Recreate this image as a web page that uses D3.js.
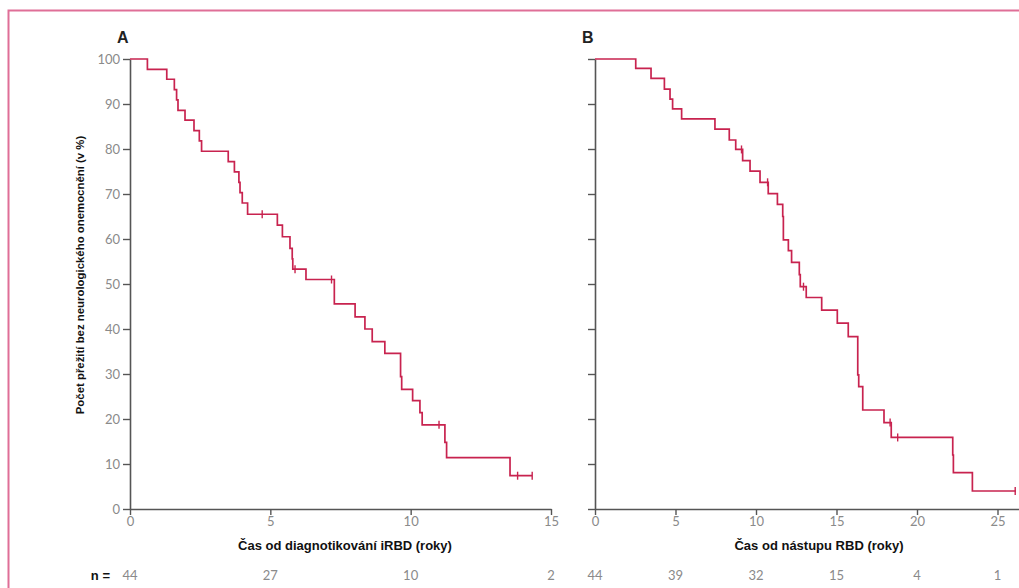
<!DOCTYPE html>
<html>
<head>
<meta charset="utf-8">
<script src="https://cdn.jsdelivr.net/npm/d3@7"></script>
<style>
  body { margin: 0; background: #fff; }
  svg { display: block; }
</style>
</head>
<body>
<div id="chart"></div>
<script>
// Kaplan-Meier steps (time in years, survival in %)
const stepTimesA = [0, 0.62, 1.31, 1.58, 1.66, 1.71, 1.96, 2.28, 2.47, 2.55, 3.50, 3.72, 3.88, 3.92, 4.00, 4.19,
    5.25, 5.43, 5.70, 5.78, 5.80, 6.27, 7.28, 8.02, 8.37, 8.63, 9.08, 9.64, 9.68, 10.07, 10.33, 10.41,
    11.22, 11.28, 13.54];
const stepValuesA = [100, 97.7, 95.5, 93.2, 90.9, 88.6, 86.4, 84.1, 81.8, 79.5, 77.2, 74.9, 72.6, 70.3, 68.0, 65.5,
    63.1, 60.5, 57.9, 55.6, 53.3, 51.0, 45.6, 42.7, 40.0, 37.2, 34.6, 29.4, 26.6, 24.1, 21.4, 18.7,
    14.8, 11.4, 7.4];
const endTimeA = 14.33;
const censorTimesA = [4.71, 5.88, 7.18, 11.01, 13.81, 14.33];

const stepTimesB = [0, 2.53, 3.48, 4.31, 4.66, 4.82, 5.38, 7.45, 8.34, 8.74, 9.17, 9.63, 10.25, 10.76, 11.33,
    11.66, 11.70, 12.01, 12.21, 12.69, 12.75, 13.12, 14.08, 15.05, 15.73, 16.32, 16.38, 16.63, 17.95,
    18.40, 22.22, 22.26, 23.44];
const stepValuesB = [100, 97.9, 95.7, 93.3, 91.1, 88.9, 86.7, 84.4, 82.0, 79.9, 77.4, 75.1, 72.6, 70.1, 67.7,
    65.0, 59.8, 57.4, 54.8, 52.1, 49.4, 47.0, 44.2, 41.3, 38.3, 29.8, 27.2, 22.0, 19.2,
    15.9, 12.0, 8.1, 4.0];
const endTimeB = 26.15;
const censorTimesB = [9.10, 10.72, 12.95, 18.33, 18.80, 26.10];

const yTicks = [0, 10, 20, 30, 40, 50, 60, 70, 80, 90, 100];
const xTicksA = [0, 5, 10, 15];
const xTicksB = [0, 5, 10, 15, 20, 25];
const atRiskA = [44, 27, 10, 2];
const atRiskB = [44, 39, 32, 15, 4, 1];

const W = 1019, H = 588;
const curveColor = "#c8234f";
const axisColor = "#555";
const tickText = "#8a8a8a";
const numFont = "Lato, 'Open Sans', sans-serif";
const labelFont = "'Liberation Sans Narrow', 'Arial Narrow', 'Liberation Sans', sans-serif";

const svg = d3.select("#chart").append("svg")
    .attr("width", W)
    .attr("height", H);

// pink frame
svg.append("rect")
    .attr("x", 8.5).attr("y", 10.5)
    .attr("width", W + 20).attr("height", H + 20)
    .attr("fill", "none")
    .attr("stroke", "#df6f97")
    .attr("stroke-width", 2);

const y = d3.scaleLinear().domain([0, 100]).range([509, 59]);
const xA = d3.scaleLinear().domain([0, 15]).range([130, 551]);
const xB = d3.scaleLinear().domain([0, 26.4]).range([595, 595 + 26.4 * 16.1]);

function panel(x, times, values, endTime, censors, xTicks, showYLabels, letter, xTitle, atRisk) {
    const g = svg.append("g");

    // y axis
    const yAxis = d3.axisLeft(y).tickValues(yTicks).tickSize(7).tickSizeOuter(0).tickPadding(3);
    if (!showYLabels) yAxis.tickFormat("");
    const gy = g.append("g")
        .attr("transform", `translate(${x(0)},0)`)
        .call(yAxis);

    // x axis
    const gx = g.append("g")
        .attr("transform", `translate(0,${y(0)})`)
        .call(d3.axisBottom(x).tickValues(xTicks).tickSize(6).tickSizeOuter(0).tickPadding(2));

    [gx, gy].forEach(a => {
        a.select(".domain").attr("stroke", axisColor).attr("stroke-width", 1.6);
        a.selectAll(".tick line").attr("stroke", axisColor).attr("stroke-width", 1.4);
        a.selectAll(".tick text")
            .attr("fill", tickText)
            .style("font-family", numFont)
            .style("font-size", "13px");
    });

    // step curve
    const pts = times.map((t, i) => [t, values[i]]);
    pts.push([endTime, values[values.length - 1]]);
    g.append("path")
        .datum(pts)
        .attr("fill", "none")
        .attr("stroke", curveColor)
        .attr("stroke-width", 1.7)
        .attr("d", d3.line().x(d => x(d[0])).y(d => y(d[1])).curve(d3.curveStepAfter));

    // censor marks
    const survAt = t => {
        let v = values[0];
        times.forEach((tt, i) => { if (tt <= t) v = values[i]; });
        return v;
    };
    g.selectAll(".cens")
        .data(censors)
        .join("line")
        .attr("x1", d => x(d)).attr("x2", d => x(d))
        .attr("y1", d => y(survAt(d)) - 4).attr("y2", d => y(survAt(d)) + 4)
        .attr("stroke", curveColor)
        .attr("stroke-width", 1.4);

    // panel letter
    g.append("text")
        .attr("x", x(0) - 13).attr("y", 43)
        .attr("fill", "#222")
        .style("font-family", "'Liberation Sans', Arial, sans-serif")
        .style("font-weight", "bold")
        .style("font-size", "16px")
        .text(letter);

    // x title
    g.append("text")
        .attr("x", letter === "A" ? 345 : 819)
        .attr("y", 550)
        .attr("text-anchor", "middle")
        .attr("fill", "#111")
        .style("font-family", labelFont)
        .style("font-weight", "bold")
        .style("font-size", "13px")
        .text(xTitle);

    // numbers at risk
    g.selectAll(".risk")
        .data(atRisk)
        .join("text")
        .attr("x", (d, i) => x(xTicks[i]))
        .attr("y", 580)
        .attr("text-anchor", "middle")
        .attr("fill", tickText)
        .style("font-family", numFont)
        .style("font-size", "13px")
        .text(d => d);
}

panel(xA, stepTimesA, stepValuesA, endTimeA, censorTimesA, xTicksA, true, "A",
    "Čas od diagnotikování iRBD (roky)", atRiskA);
panel(xB, stepTimesB, stepValuesB, endTimeB, censorTimesB, xTicksB, false, "B",
    "Čas od nástupu RBD (roky)", atRiskB);

// y title
svg.append("text")
    .attr("transform", "translate(84,275) rotate(-90)")
    .attr("text-anchor", "middle")
    .attr("fill", "#111")
    .style("font-family", labelFont)
    .style("font-weight", "bold")
    .style("font-size", "11.4px")
    .text("Počet přežití bez neurologického onemocnění (v %)");

svg.append("text")
    .attr("x", 110).attr("y", 580)
    .attr("text-anchor", "end")
    .attr("fill", "#111")
    .style("font-family", labelFont)
    .style("font-weight", "bold")
    .style("font-size", "13px")
    .text("n =");
</script>
</body>
</html>
